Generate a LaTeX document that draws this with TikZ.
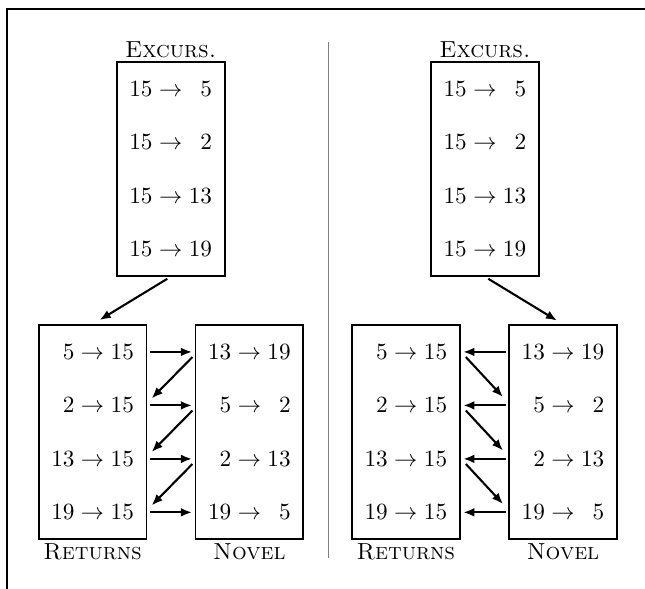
\documentclass[tikz,border=0pt]{standalone}
\usepackage{amsmath}
\usetikzlibrary{positioning}
\usetikzlibrary{fit}
\usetikzlibrary{arrows.meta}

\tikzset{
  entry/.style={minimum width=46pt, minimum height=22.6pt, inner sep=0pt},
  box/.style={draw, line width=0.8pt, inner sep=0pt},
  title/.style={inner sep=0pt},
  link/.style={-{Latex[length=4.8pt,width=3.8pt]}, line width=0.9pt},
  straight/.style={link, shorten <=1.5pt, shorten >=1.5pt}
}

\begin{document}
\begin{tikzpicture}
  \useasboundingbox (0,0) rectangle (9.75,8.90);
  % frame and separator
  \draw[line width=0.9pt] (9.75,8.76) -- (0.106,8.76) -- (0.106,0);
  \draw[gray, line width=0.5pt] (4.96,8.27) -- (4.96,0.47);

  % left panel
  \node[entry] (la1) at (2.58,7.56) {$15 \to \phantom{1}5$};
  \node[entry, below=0pt of la1] (la2) {$15 \to \phantom{1}2$};
  \node[entry, below=0pt of la2] (la3) {$15 \to 13$};
  \node[entry, below=0pt of la3] (la4) {$15 \to 19$};
  \node[box, fit=(la1)(la4)] (lexc) {};
  \node[title, above=1pt of lexc] {\textsc{Excurs.}};

  \node[entry] (lr1) at (1.40,3.58) {$\phantom{1}5 \to 15$};
  \node[entry, below=0pt of lr1] (lr2) {$\phantom{1}2 \to 15$};
  \node[entry, below=0pt of lr2] (lr3) {$13 \to 15$};
  \node[entry, below=0pt of lr3] (lr4) {$19 \to 15$};
  \node[box, fit=(lr1)(lr4)] (lret) {};
  \node[title, below=1.3pt of lret] {\textsc{Returns}};

  \node[entry] (ln1) at (3.77,3.58) {$13 \to 19$};
  \node[entry, below=0pt of ln1] (ln2) {$\phantom{1}5 \to \phantom{1}2$};
  \node[entry, below=0pt of ln2] (ln3) {$\phantom{1}2 \to 13$};
  \node[entry, below=0pt of ln3] (ln4) {$19 \to \phantom{1}5$};
  \node[box, fit=(ln1)(ln4)] (lnov) {};
  \node[title, below=1.3pt of lnov] {\textsc{Novel}};

  \draw[link, shorten <=1.7pt, shorten >=3.5pt] (lexc.south) -- (lret.north);
  \draw[straight] (lr1.east) -- (ln1.west);
  \draw[straight] (lr2.east) -- (ln2.west);
  \draw[straight] (lr3.east) -- (ln3.west);
  \draw[straight] (lr4.east) -- (ln4.west);
  \draw[link] ([xshift=-1.3pt,yshift=-2.2pt]ln1.west) -- ([xshift=2.2pt,yshift=3pt]lr2.east);
  \draw[link] ([xshift=-1.3pt,yshift=-2.2pt]ln2.west) -- ([xshift=2.2pt,yshift=3pt]lr3.east);
  \draw[link] ([xshift=-1.3pt,yshift=-2.2pt]ln3.west) -- ([xshift=2.2pt,yshift=3pt]lr4.east);

  % right panel
  \node[entry] (ra1) at (7.33,7.56) {$15 \to \phantom{1}5$};
  \node[entry, below=0pt of ra1] (ra2) {$15 \to \phantom{1}2$};
  \node[entry, below=0pt of ra2] (ra3) {$15 \to 13$};
  \node[entry, below=0pt of ra3] (ra4) {$15 \to 19$};
  \node[box, fit=(ra1)(ra4)] (rexc) {};
  \node[title, above=1pt of rexc] {\textsc{Excurs.}};

  \node[entry] (rr1) at (6.135,3.58) {$\phantom{1}5 \to 15$};
  \node[entry, below=0pt of rr1] (rr2) {$\phantom{1}2 \to 15$};
  \node[entry, below=0pt of rr2] (rr3) {$13 \to 15$};
  \node[entry, below=0pt of rr3] (rr4) {$19 \to 15$};
  \node[box, fit=(rr1)(rr4)] (rret) {};
  \node[title, below=1.3pt of rret] {\textsc{Returns}};

  \node[entry] (rn1) at (8.51,3.58) {$13 \to 19$};
  \node[entry, below=0pt of rn1] (rn2) {$\phantom{1}5 \to \phantom{1}2$};
  \node[entry, below=0pt of rn2] (rn3) {$\phantom{1}2 \to 13$};
  \node[entry, below=0pt of rn3] (rn4) {$19 \to \phantom{1}5$};
  \node[box, fit=(rn1)(rn4)] (rnov) {};
  \node[title, below=1.3pt of rnov] {\textsc{Novel}};

  \draw[link, shorten <=1.7pt, shorten >=3pt] (rexc.south) -- (rnov.north);
  \draw[straight] (rn1.west) -- (rr1.east);
  \draw[straight] (rn2.west) -- (rr2.east);
  \draw[straight] (rn3.west) -- (rr3.east);
  \draw[straight] (rn4.west) -- (rr4.east);
  \draw[link] ([xshift=2.6pt,yshift=-2.2pt]rr1.east) -- ([xshift=-2.6pt,yshift=3.6pt]rn2.west);
  \draw[link] ([xshift=2.6pt,yshift=-2.2pt]rr2.east) -- ([xshift=-2.6pt,yshift=3.6pt]rn3.west);
  \draw[link] ([xshift=2.6pt,yshift=-2.2pt]rr3.east) -- ([xshift=-2.6pt,yshift=3.6pt]rn4.west);
\end{tikzpicture}
\end{document}
